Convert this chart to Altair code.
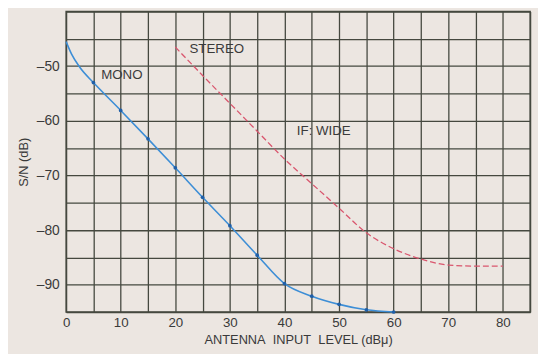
import altair as alt
import pandas as pd

mono_x = [0, 1, 2.5, 5, 10, 15, 20, 25, 30, 35, 40, 45, 50, 55, 60]
mono_y = [-45.5, -47.8, -50.2, -53.0, -58.1, -63.3, -68.6, -74.0, -79.2, -84.6, -89.8, -92.1, -93.6, -94.6, -95.0]
dot_x = [5, 10, 15, 20, 25, 30, 35, 40, 45, 50, 55, 60]
dot_y = [-53.0, -58.1, -63.3, -68.6, -74.0, -79.2, -84.6, -89.8, -92.1, -93.6, -94.6, -95.0]
stereo_x = [20, 25, 30, 35, 40, 45, 50, 55, 60, 65, 70, 75, 80]
stereo_y = [-46.5, -51.7, -56.8, -61.9, -67.0, -71.5, -76.0, -80.5, -83.4, -85.3, -86.4, -86.6, -86.6]
label_text = ["MONO", "STEREO", "IF: WIDE"]
label_x = [10.2, 27.6, 47.2]
label_y = [-51.6, -46.8, -61.8]

x_ticks = list(range(0, 90, 5))
y_ticks = list(range(-95, -35, 5))

BG = "#ece6e1"
GRID = "#45483f"
TXT = "#3a3a3a"
FONT = "Liberation Sans"

mono = pd.DataFrame({"x": mono_x, "y": mono_y})
dots = pd.DataFrame({"x": dot_x, "y": dot_y})
stereo = pd.DataFrame({"x": stereo_x, "y": stereo_y})
labels = pd.DataFrame({"t": label_text, "x": label_x, "y": label_y})

xscale = alt.Scale(domain=[0, 85], nice=False, zero=False)
yscale = alt.Scale(domain=[-95, -40], nice=False, zero=False)

xax = alt.Axis(
    values=x_ticks, grid=True, ticks=False, domain=False,
    labelExpr="(datum.value % 10 == 0 && datum.value <= 80) ? datum.label : ''",
    title="ANTENNA\u00a0 INPUT\u00a0 LEVEL (dBμ)", labelPadding=4, titlePadding=4,
    labelFlush=False, labelOverlap=False,
)
yax = alt.Axis(
    values=y_ticks, grid=True, ticks=False, domain=False,
    labelExpr="(datum.value == -90 || datum.value == -80 || datum.value == -70 || datum.value == -60 || datum.value == -50) ? '\u2013' + format(-datum.value, 'd') : ''",
    title="S/N (dB)", labelPadding=7, titlePadding=6, labelFlush=False, labelOverlap=False,
    labelFontSize=14,
)

X = alt.X("x:Q", scale=xscale, axis=xax)
Y = alt.Y("y:Q", scale=yscale, axis=yax)

mono_line = alt.Chart(mono).mark_line(color="#3d8ed6", strokeWidth=1.6, interpolate="monotone").encode(x=X, y=Y)
mono_pts = alt.Chart(dots).mark_circle(color="#1f5fa8", size=14, opacity=1).encode(x=X, y=Y)
stereo_line = alt.Chart(stereo).mark_line(color="#d9566e", strokeWidth=1.3, strokeDash=[6, 3], interpolate="monotone").encode(x=X, y=Y)
texts = alt.Chart(labels).mark_text(font=FONT, fontSize=13.5, color=TXT).encode(x=X, y=Y, text="t:N")

chart = alt.layer(mono_line, mono_pts, stereo_line, texts).properties(
    width=471, height=305,
    autosize=alt.AutoSizeParams(type="none"),
    padding={"left": 59, "top": 1, "right": 8, "bottom": 40},
    background=BG,
).configure_view(
    stroke=GRID, strokeWidth=1.5, fill=BG
).configure_axis(
    gridColor=GRID, gridWidth=1.3, gridOpacity=1,
    labelFont=FONT, labelFontSize=13.5, labelColor=TXT,
    titleFont=FONT, titleFontSize=13, titleFontWeight="normal", titleColor=TXT,
)

chart.save("out.html", embed_options={"renderer": "svg", "actions": False})
